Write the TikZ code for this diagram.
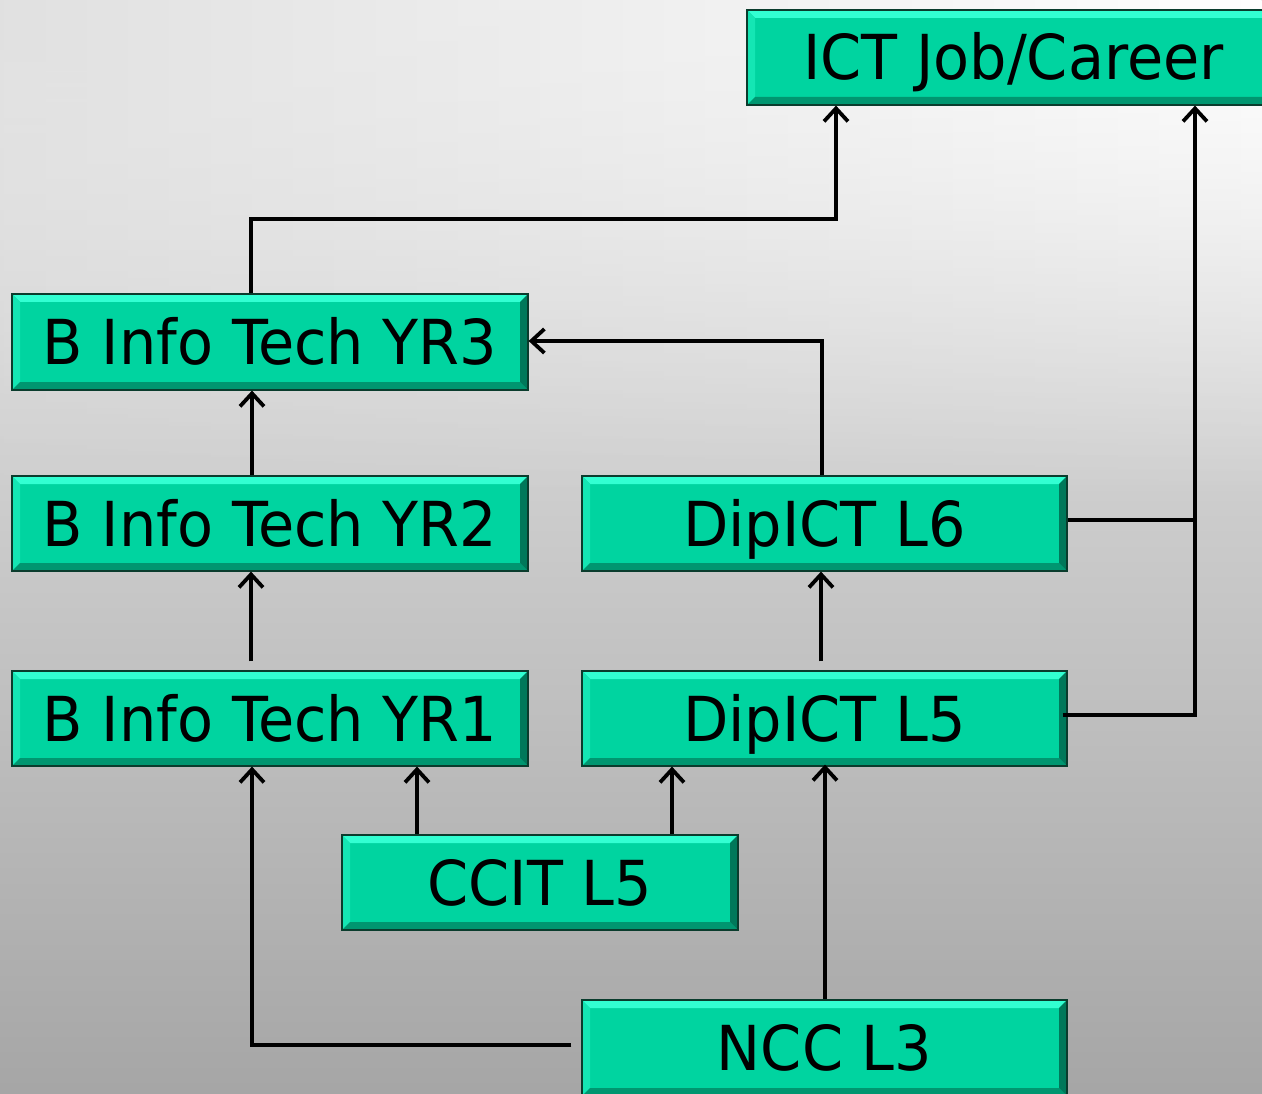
\documentclass[tikz,border=0pt]{standalone}
\usepackage{fontspec}
\setmainfont{DejaVu Sans}[FakeStretch=0.95]
\usetikzlibrary{arrows.meta,calc,fadings}
\definecolor{boxfill}{RGB}{0,212,160}
\definecolor{boxtop}{RGB}{50,255,210}
\definecolor{boxleft}{RGB}{20,230,180}
\definecolor{boxdark}{RGB}{0,120,90}
\definecolor{boxbottom}{RGB}{0,150,112}
\definecolor{boxline}{RGB}{10,60,45}
\tikzset{
  box/.style={rectangle, draw=boxline, line width=1.2pt, fill=boxfill, inner sep=0pt,
    text height=45pt, text depth=0pt, font=\fontsize{62}{62}\selectfont,
    path picture={
      \coordinate (NW) at (path picture bounding box.north west);
      \coordinate (NE) at (path picture bounding box.north east);
      \coordinate (SW) at (path picture bounding box.south west);
      \coordinate (SE) at (path picture bounding box.south east);
      \fill[boxtop] (NW) -- (NE) -- ($(NE)+(-8pt,-8pt)$) -- ($(NW)+(8pt,-8pt)$) -- cycle;
      \fill[boxleft] (NW) -- (SW) -- ($(SW)+(8pt,8pt)$) -- ($(NW)+(8pt,-8pt)$) -- cycle;
      \fill[boxbottom] (SW) -- (SE) -- ($(SE)+(-8pt,8pt)$) -- ($(SW)+(8pt,8pt)$) -- cycle;
      \fill[boxdark] (NE) -- (SE) -- ($(SE)+(-8pt,8pt)$) -- ($(NE)+(-8pt,-8pt)$) -- cycle;
    }},
  conn/.style={line width=4pt, black, line cap=butt, line join=miter},
  arr/.style={conn, -{Straight Barb[length=13pt,width=24pt,line width=3.8pt]}}
}
\begin{document}
\begin{tikzpicture}[x=1pt,y=-1pt]
\clip (0,0) rectangle (1262,1094);
\shade[top color=black!7, bottom color=black!35] (0,0) rectangle (1262,1094);
\shade[left color=black!12, right color=white, path fading=south] (0,0) rectangle (1262,500);

% nodes
\node[box, minimum width=533pt, minimum height=95pt] (ict) at (1013.5,57.5) {ICT Job/Career};
\node[box, minimum width=516pt, minimum height=96pt] (yr3) at (270,342) {B Info Tech YR3};
\node[box, minimum width=516pt, minimum height=95pt] (yr2) at (270,523.5) {B Info Tech YR2};
\node[box, minimum width=485pt, minimum height=95pt] (l6) at (824.5,523.5) {DipICT L6};
\node[box, minimum width=516pt, minimum height=95pt] (yr1) at (270,718.5) {B Info Tech YR1};
\node[box, minimum width=485pt, minimum height=95pt] (l5) at (824.5,718.5) {DipICT L5};
\node[box, minimum width=396pt, minimum height=95pt] (ccit) at (540,882.5) {CCIT L5};
\node[box, minimum width=485pt, minimum height=96pt] (ncc) at (824.5,1048) {NCC L3};

% junction coordinates
\coordinate (j1) at (836,219);
\coordinate (j2) at (1195,520);
\coordinate (j3) at (822,341);
\coordinate (j4) at (252,1045);

% connectors
\draw[arr] (yr3.north -| 251,0) |- (j1) -- (j1 |- ict.south);
\draw[conn] (l6.east |- j2) -- (j2);
\draw[arr] ([xshift=-5pt,yshift=3.5pt]l5.east) -| (j2 |- ict.south);
\draw[arr] (l6.north -| j3) |- (j3 -| yr3.east);
\draw[arr] (yr2.north -| 252,0) -- (yr3.south -| 252,0);
\draw[arr, shorten <=9pt] (yr1.north -| 251,0) -- (yr2.south -| 251,0);
\draw[arr, shorten <=9pt] (l5.north -| 821,0) -- (l6.south -| 821,0);
\draw[arr] (ccit.north -| 417,0) -- (yr1.south -| 417,0);
\draw[arr] (ccit.north -| 672,0) -- (l5.south -| 672,0);
\draw[arr] (ncc.north -| 825,0) -- ([yshift=2pt]l5.south -| 825,0);
\draw[arr, shorten <=10pt] (ncc.west |- j4) -- (j4) -- (j4 |- yr1.south);
\end{tikzpicture}
\end{document}
